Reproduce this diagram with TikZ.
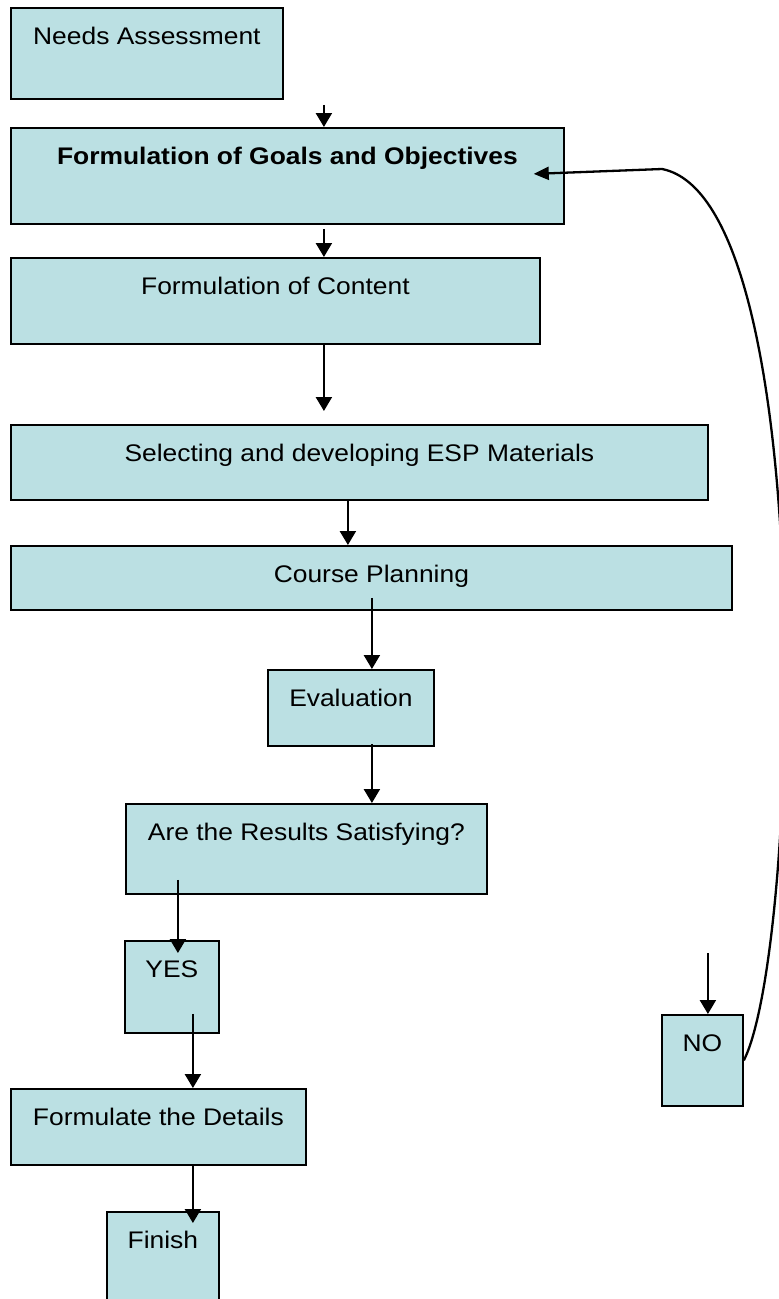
\documentclass[tikz,border=0pt]{standalone}
\usepackage{fontspec}
\setmainfont{Liberation Sans}[FakeStretch=1.1]
\usetikzlibrary{arrows.meta}
\definecolor{boxfill}{HTML}{BBE0E3}
\begin{document}
\begin{tikzpicture}[x=1pt,y=-1pt,
  box/.style={draw=black, line width=1.8pt, fill=boxfill, inner xsep=0pt, inner ysep=0pt,
    text height=36.5pt, anchor=north west, font=\fontsize{24}{28}\selectfont},
  arr/.style={line width=2.4pt, -{Triangle[length=14pt,width=16pt]}},
  loop/.style={line width=2.3pt, -{Triangle[length=15pt,width=13pt]}}]
\path[use as bounding box] (0,0) rectangle (779,1299);
\clip (0,0) rectangle (779,1299);

\node[box, minimum width=272pt, text depth=54.5pt] (needs) at (10,7) {Needs Assessment};
\node[box, minimum width=553pt, text depth=59.5pt] (goals) at (10,127) {\bfseries Formulation of Goals and Objectives};
\node[box, minimum width=529pt, text depth=49.5pt] (content) at (10,257) {Formulation of Content};
\node[box, minimum width=697pt, text depth=38.5pt] (esp) at (10,424) {Selecting and developing ESP Materials};
\node[box, minimum width=721pt, text depth=27.5pt] (course) at (10,545) {Course Planning};
\node[box, minimum width=166pt, text depth=39.5pt] (eval) at (267,669) {Evaluation};
\node[box, minimum width=361pt, text depth=53.5pt] (results) at (125,803) {Are the Results Satisfying?};
\node[box, minimum width=94pt, text depth=55.5pt] (yes) at (124,940) {YES};
\node[box, minimum width=81pt, text depth=54.5pt] (no) at (661,1014) {NO};
\node[box, minimum width=295pt, text depth=39.5pt] (details) at (10,1088) {Formulate the Details};
\node[box, minimum width=112pt, text depth=80pt] (finish) at (106,1211) {Finish};

\coordinate (corner) at (662,169);

\draw[arr] ([xshift=177pt,yshift=-5pt]needs.south) -- ([xshift=36.5pt]goals.north);
\draw[arr] ([xshift=36.5pt,yshift=-4pt]goals.south) -- ([xshift=48.5pt]content.north);
\draw[arr] ([xshift=48.5pt]content.south) -- ([xshift=-35.5pt,yshift=13pt]esp.north);
\draw[arr] ([xshift=-11.5pt]esp.south) -- ([xshift=-23.5pt]course.north);
\draw[arr] ([xshift=0.5pt,yshift=13pt]course.south) -- ([xshift=21pt]eval.north);
\draw[arr] ([xshift=21pt,yshift=3pt]eval.south) -- ([xshift=65.5pt]results.north);
\draw[arr] ([xshift=-128.5pt,yshift=15pt]results.south) -- ([xshift=6pt,yshift=-13pt]yes.north);
\draw[arr] ([xshift=21pt,yshift=20pt]yes.south) -- ([xshift=34.5pt]details.north);
\draw[arr] ([xshift=34.5pt]details.south) -- ([xshift=30pt,yshift=-12pt]finish.north);
\draw[arr] ([xshift=5.5pt,yshift=61pt]no.north) -- ([xshift=5.5pt]no.north);
\draw[loop] (no.east) .. controls (800,950) and (820,200) .. (corner) -- ([xshift=-31pt,yshift=2pt]goals.east);
\end{tikzpicture}
\end{document}
